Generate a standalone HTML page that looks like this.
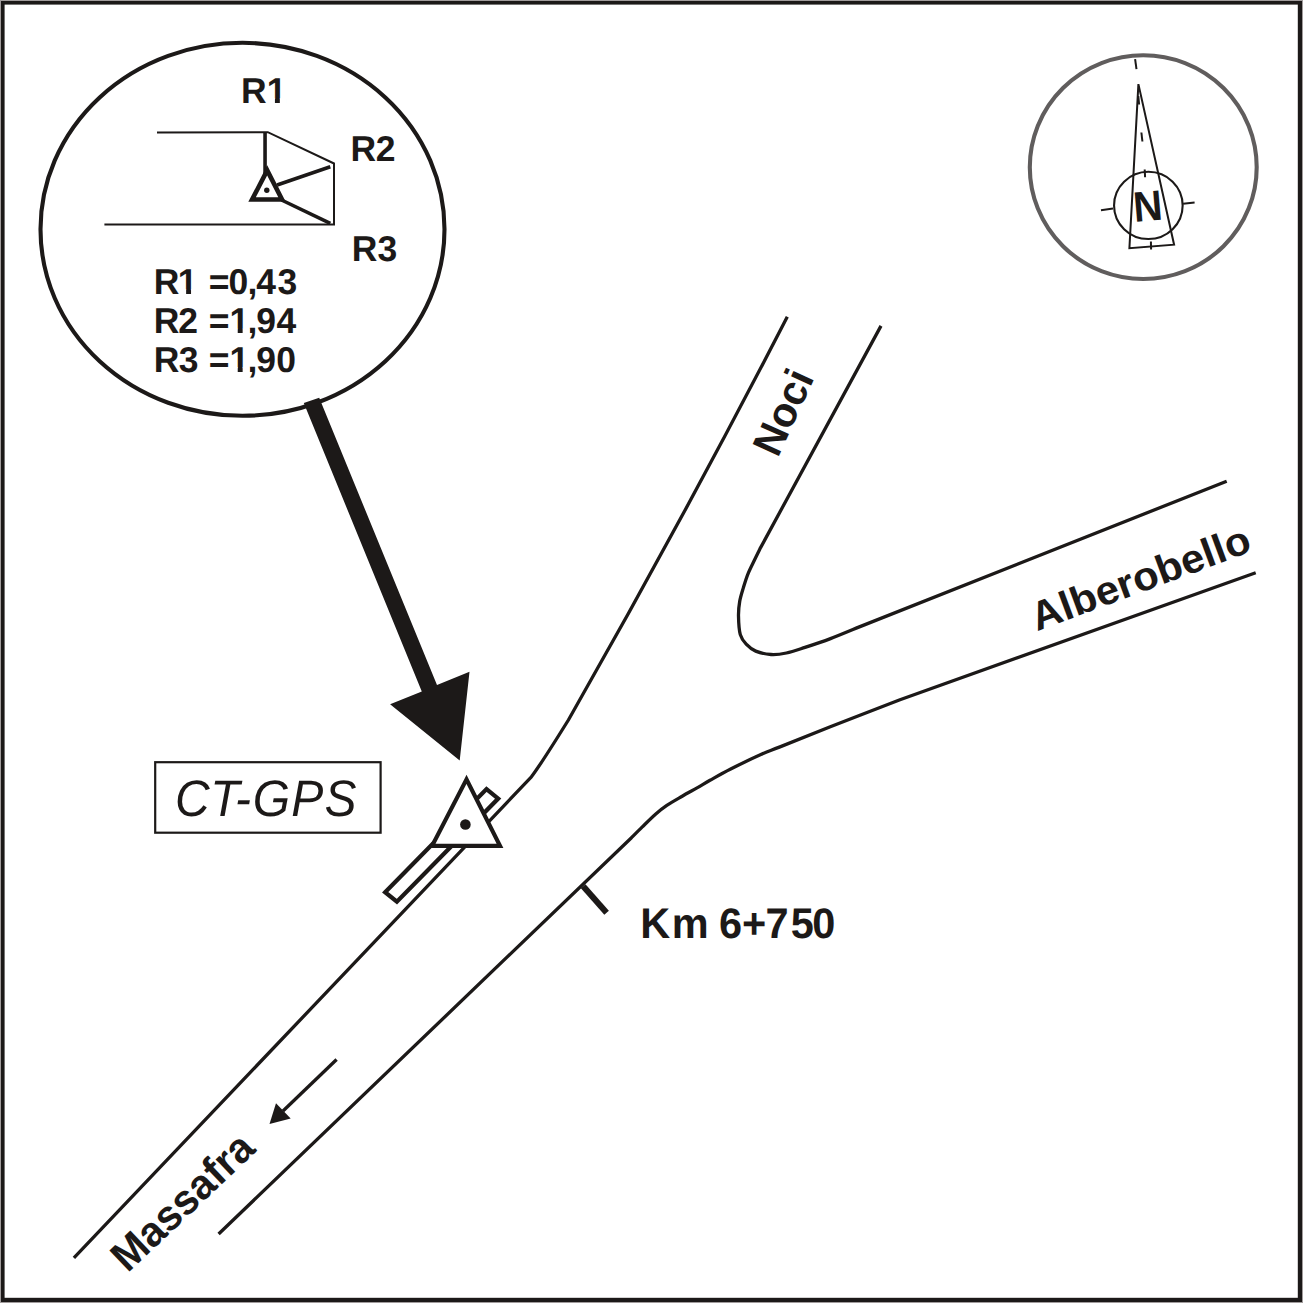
<!DOCTYPE html>
<html><head><meta charset="utf-8"><title>CT-GPS map</title>
<style>html,body{margin:0;padding:0;background:#fff;width:1303px;height:1303px;overflow:hidden;font-family:"Liberation Sans",sans-serif}svg{display:block}</style>
</head><body>
<svg width="1303" height="1303" viewBox="0 0 1303 1303">
<rect x="0" y="0" width="1303" height="1303" fill="#a19c9c"/>
<rect x="1" y="1" width="1301" height="1301" fill="#1c1918"/>
<rect x="4.6" y="4.6" width="1293.2" height="1293.2" fill="#fff"/>
<ellipse cx="242.5" cy="229.3" rx="202" ry="186.5" fill="none" stroke="#1c1918" stroke-width="4.1"/>
<g fill="none" stroke="#1c1918" stroke-linecap="butt">
<polyline points="157,132.6 267.8,132.2 334,163.5 334,224.6" stroke-width="2" stroke-linejoin="miter"/>
<line x1="104.4" y1="224.6" x2="335" y2="224.6" stroke-width="2"/>
<line x1="265.05" y1="132.5" x2="265.05" y2="175" stroke-width="3.6"/>
<polygon points="267.2,170.4 252.1,199.55 282,199.55" stroke-width="4.6" stroke-linejoin="miter"/>
<line x1="277.1" y1="185" x2="330.3" y2="166.8" stroke-width="3.6"/>
<line x1="281.5" y1="200" x2="330.3" y2="223.4" stroke-width="3.6"/>
</g>
<circle cx="266.8" cy="190.2" r="2.7" fill="#1c1918"/>
<g fill="#1c1918" font-family="'Liberation Sans', sans-serif" text-rendering="geometricPrecision">
<text transform="translate(0,102.8) scale(1,1.01)" x="241.03 266.66" y="0" font-size="35.5" font-weight="bold" font-style="normal">R1</text>
<text transform="translate(0,160.9) scale(1,1.01)" x="350.53 375.87" y="0" font-size="35.5" font-weight="bold" font-style="normal">R2</text>
<text transform="translate(0,260.9) scale(1,1.01)" x="351.73 377.59" y="0" font-size="35.5" font-weight="bold" font-style="normal">R3</text>
<text transform="translate(0,293.8) scale(1,1.01)" x="153.73 177.86 197.61 208.73 228.4 247.59 256.26 277.49" y="0" font-size="35.5" font-weight="bold" font-style="normal">R1 =0,43</text>
<text transform="translate(0,333.1) scale(1,1.01)" x="153.73 178.27 198.01 208.73 229.46 247.59 256.17 276.56" y="0" font-size="35.5" font-weight="bold" font-style="normal">R2 =1,94</text>
<text transform="translate(0,371.7) scale(1,1.01)" x="153.73 178.69 198.43 208.73 229.46 247.59 256.17 276.3" y="0" font-size="35.5" font-weight="bold" font-style="normal">R3 =1,90</text>
<text transform="translate(0,938.2) scale(1,1.03)" x="640.32 671.76 708.66 718.88 742.06 765.42 790.82 812.26" y="0" font-size="41.5" font-weight="bold" font-style="normal">Km 6+750</text>
<text transform="translate(0,815.85) scale(1,1.07)" x="174.95 210.19 235.04 252.63 291.22 324.54" y="0" font-size="48" font-weight="normal" font-style="italic">CT-GPS</text>
<text transform="translate(127.6,1273.6) rotate(-43.5) scale(1,1.03)" x="0" y="0" font-size="41.2" font-weight="bold" font-style="normal">Massafra</text>
<text transform="translate(777.8,458.5) rotate(-65.5) scale(1,1.02)" x="0" y="0" font-size="41" font-weight="bold" font-style="normal">Noci</text>
<text transform="translate(1037,631.2) rotate(-20.4) scale(1,0.96)" x="0" y="0" font-size="42" font-weight="bold" font-style="normal">Alberobello</text>
<text transform="translate(1134.41,222.03) rotate(-4.8) scale(1,1.06)" x="0" y="0" font-size="40.3" font-weight="bold" font-style="normal">N</text>
</g>
<path fill="#fff" d="M267.9,98.34H274.93V104.3H267.9ZM279.84,98.34H286.62V104.3H279.84ZM179.1,289.34H186.13V295.3H179.1ZM191.04,289.34H197.82V295.3H191.04ZM230.7,328.64H237.73V334.6H230.7ZM242.64,328.64H249.42V334.6H242.64ZM230.7,367.24H237.73V373.2H230.7ZM242.64,367.24H249.42V373.2H242.64Z"/>
<polygon points="303.8,403 319.2,397.8 437,684.9 469.5,671.8 459.7,760.4 390.1,704.3 421.8,691.6" fill="#1c1918"/>
<path d="M73.9,1257.9 L531.4,776.8 C538,768 556,740 568.4,720 Q683.4,518.4 787.3,316.8" fill="none" stroke="#1c1918" stroke-width="3.3" stroke-linecap="butt" stroke-linejoin="round"/>
<path d="M218.6,1234 L631.2,838  C633.05,836.15 638.2,830.9 642.3,826.9 C646.4,822.9 651.72,817.58 655.8,814 C659.88,810.42 662.4,808.37 666.8,805.4 C671.2,802.43 677.08,799.17 682.2,796.2 C687.32,793.23 692.87,790.25 697.5,787.6 C702.13,784.95 704.47,783.4 710,780.3 C715.53,777.2 722.13,773.33 730.7,769 C739.27,764.67 753.18,757.98 761.4,754.3 C769.62,750.62 768.52,751.48 780,746.9 C791.48,742.32 810.3,734.67 830.3,726.8 C850.3,718.93 888.38,704.22 900,699.7 L1255.7,572.8" fill="none" stroke="#1c1918" stroke-width="3.3" stroke-linecap="butt" stroke-linejoin="round"/>
<path d="M881,325.9 L760.6,547.6  C759.58,549.67 756.6,555.63 754.5,560 C752.4,564.37 749.85,569.2 748,573.8 C746.15,578.4 744.78,583 743.4,587.6 C742.02,592.2 740.52,596.67 739.7,601.4 C738.88,606.13 738.4,610.47 738.5,616 C738.6,621.53 738.97,629.87 740.3,634.6 C741.63,639.33 743.93,641.65 746.5,644.4 C749.07,647.15 751.62,649.42 755.7,651.1 C759.78,652.78 765.88,654.18 771,654.5 C776.12,654.82 780.73,654.18 786.4,653 C792.07,651.82 797.65,649.8 805,647.4 C812.35,645 821.65,641.93 830.5,638.6 C839.35,635.27 853.5,629.27 858.1,627.4 L1226.7,481.2" fill="none" stroke="#1c1918" stroke-width="3.3" stroke-linecap="butt" stroke-linejoin="round"/>
<line x1="583.2" y1="886.2" x2="606.6" y2="912.8" stroke="#1c1918" stroke-width="6.1"/>
<line x1="336.6" y1="1059.5" x2="283" y2="1111" stroke="#1c1918" stroke-width="3.3"/>
<polygon points="269.5,1124 276,1103.2 290.7,1118.5" fill="#1c1918"/>
<polygon points="385.14,892.2 486.52,789.04 498.2,798.57 396.88,901.7" fill="#fff" stroke="#1c1918" stroke-width="4.2" stroke-linejoin="miter"/>
<polygon points="466.5,779.4 432.1,845.9 500,845.9" fill="#fff" stroke="#1c1918" stroke-width="4.2" stroke-linejoin="miter"/>
<circle cx="465.4" cy="824.5" r="5.3" fill="#1c1918"/>
<rect x="155.2" y="762.2" width="225.4" height="70.5" fill="none" stroke="#1c1918" stroke-width="2.2"/>
<ellipse cx="1143.25" cy="167.15" rx="113.45" ry="111.85" fill="none" stroke="#605d5d" stroke-width="4.1"/>
<g fill="none" stroke="#1c1918">
<polygon points="1138.4,84.1 1129.4,248.2 1174.1,244.7" stroke-width="2" stroke-linejoin="miter"/>
<ellipse cx="1148.35" cy="205.4" rx="34.3" ry="33.6" stroke-width="2.1"/>
<line x1="1101" y1="210.2" x2="1113" y2="208.6" stroke-width="2"/>
<line x1="1183.1" y1="203.8" x2="1194.6" y2="202.5" stroke-width="2"/>
<line x1="1135.1" y1="59.2" x2="1136.5" y2="69.2" stroke-width="2"/>
<line x1="1138.3" y1="96" x2="1139.1" y2="104.5" stroke-width="2"/>
<line x1="1141.4" y1="132.5" x2="1142.4" y2="141.5" stroke-width="2"/>
<line x1="1144.7" y1="169.5" x2="1145.1" y2="177.2" stroke-width="2"/>
<line x1="1150.9" y1="241.5" x2="1151.1" y2="249.5" stroke-width="2"/>
</g>
</svg>
</body></html>
